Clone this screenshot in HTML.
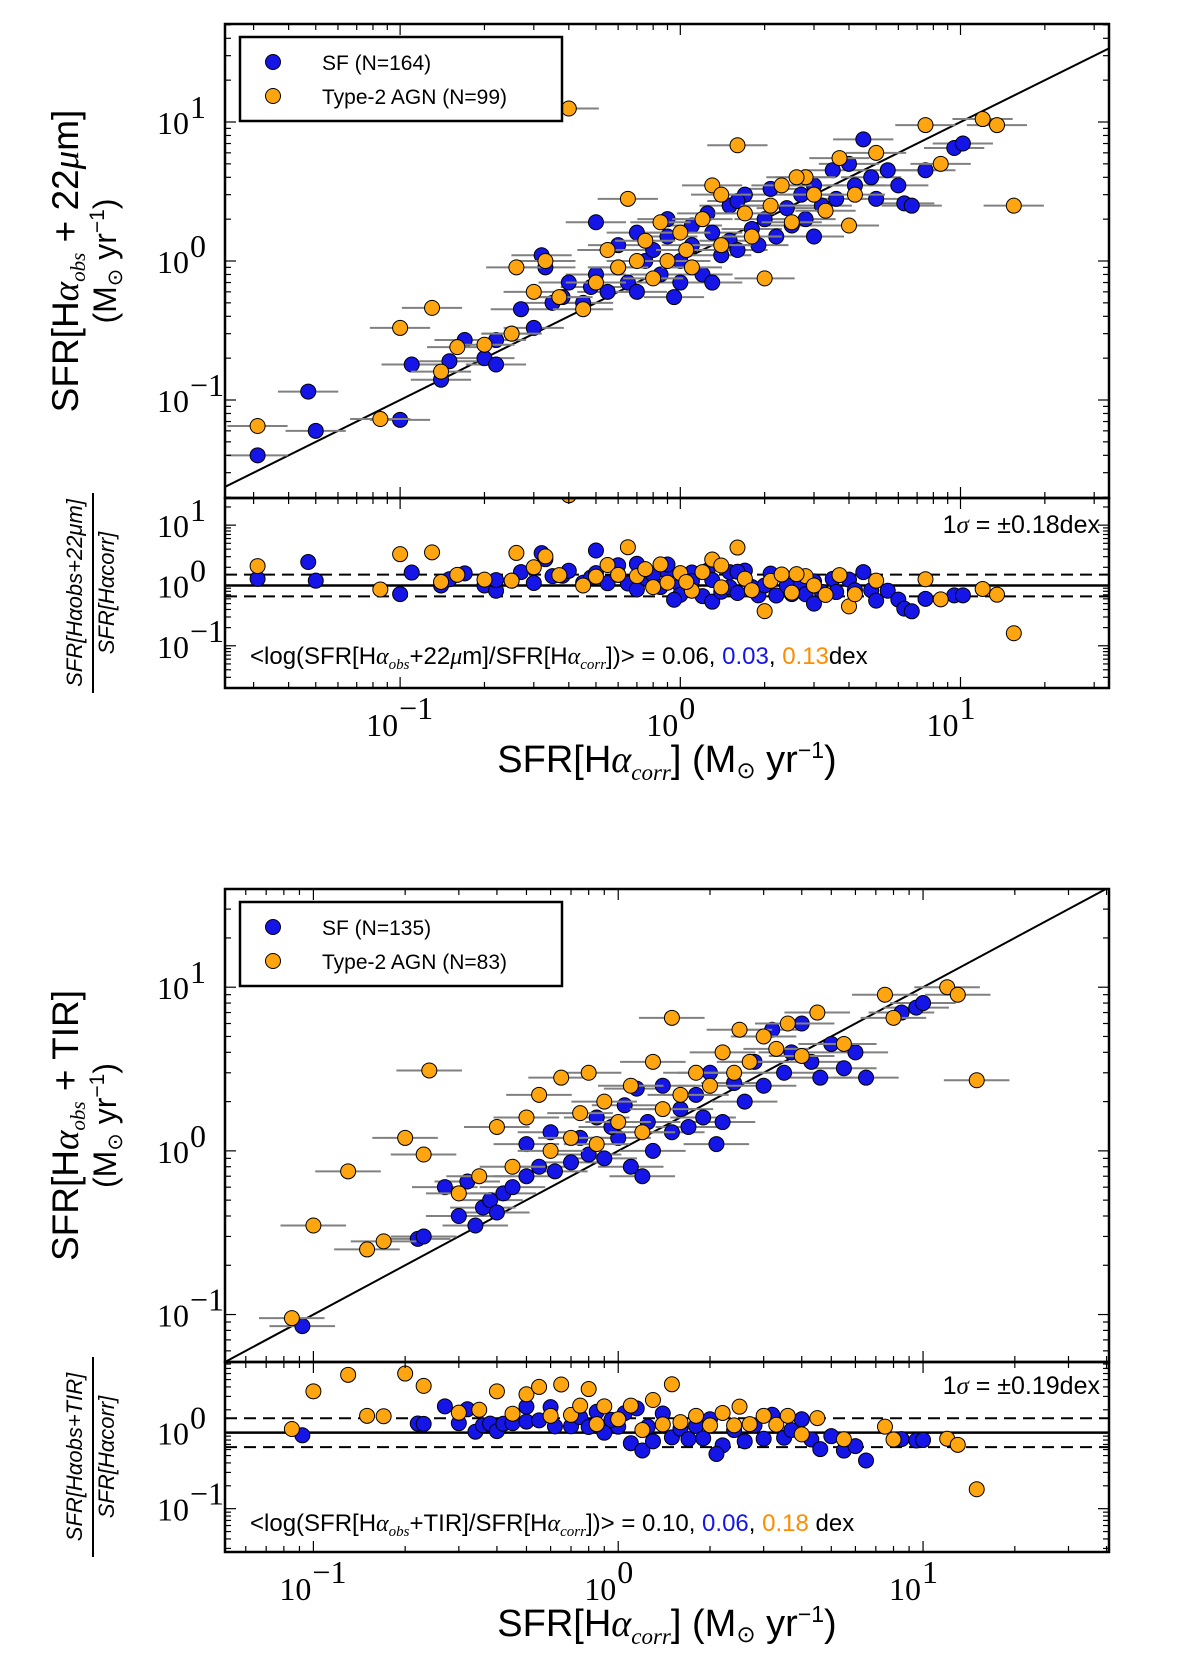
<!DOCTYPE html>
<html><head><meta charset="utf-8"><style>
html,body{margin:0;padding:0;background:#fff;}
svg text{font-family:"Liberation Sans",sans-serif;}
.tk{font-family:"Liberation Serif",serif;font-size:32px;}
</style></head><body>
<svg id="chart" width="1200" height="1652" viewBox="0 0 1200 1652" xmlns="http://www.w3.org/2000/svg"></svg>
<script>
// ---- data: top panel (22um) ----
const sfTopX = [0.031,0.047,0.05,0.1,0.11,0.14,0.17,0.15,0.2,0.22,0.22,0.25,0.27,0.3,0.32,0.33,0.35,0.38,0.4,0.45,0.48,0.5,0.5,0.55,0.6,0.6,0.65,0.7,0.7,0.75,0.8,0.85,0.9,0.9,1.0,1.0,1.1,1.1,1.2,1.25,1.3,1.3,1.4,1.5,1.5,1.6,1.7,1.8,1.9,2.0,2.1,2.2,2.4,2.5,2.7,2.8,3.0,3.2,3.5,3.6,4.0,4.2,4.5,4.8,5.0,5.5,6.0,6.3,6.7,7.5,9.5,10.2,3.0,1.6,0.95];
const sfTopY = [0.040,0.115,0.06,0.072,0.18,0.14,0.27,0.19,0.2,0.18,0.27,0.3,0.45,0.33,1.1,0.9,0.5,0.55,0.7,0.5,0.65,1.9,0.8,0.6,1.3,0.9,0.7,1.6,0.6,1.0,1.2,0.8,1.5,2.0,1.0,0.7,1.8,1.3,0.8,2.2,0.7,1.6,1.1,2.5,1.4,1.2,3.0,1.7,1.3,2.0,3.3,1.5,2.4,1.8,3.0,2.0,3.5,2.5,4.5,2.8,5.0,3.5,7.5,4.0,2.8,4.5,3.5,2.6,2.5,4.5,6.5,7.0,1.5,2.7,0.55];
const agnTopX = [0.031,0.085,0.1,0.13,0.14,0.16,0.2,0.25,0.26,0.3,0.33,0.37,0.4,0.45,0.5,0.55,0.6,0.65,0.7,0.75,0.8,0.85,0.9,1.0,1.1,1.2,1.3,1.4,1.4,1.6,1.7,1.8,2.0,2.1,2.3,2.5,2.8,3.0,3.3,3.7,4.0,4.2,5.0,7.5,8.5,12,13.5,15.5,2.6,1.05];
const agnTopY = [0.065,0.073,0.33,0.46,0.16,0.24,0.25,0.3,0.9,0.6,1.0,0.55,12.5,0.45,0.7,1.2,0.9,2.8,1.0,1.4,0.75,1.9,1.0,1.6,0.9,2.0,3.5,3.0,1.3,6.8,2.2,1.5,0.75,2.5,3.5,1.9,4.0,3.0,2.3,5.5,1.8,3.0,6.0,9.5,5.0,10.5,9.5,2.5,4.0,1.2];
// ---- data: bottom panel (TIR) ----
const sfBotX = [0.092,0.22,0.23,0.27,0.3,0.32,0.34,0.36,0.38,0.4,0.42,0.45,0.5,0.5,0.55,0.6,0.62,0.7,0.75,0.8,0.85,0.9,1.0,1.05,1.1,1.2,1.25,1.3,1.4,1.5,1.6,1.7,1.8,1.9,2.0,2.2,2.4,2.6,2.8,3.0,3.2,3.5,3.7,4.0,4.3,4.6,5.0,5.5,6.0,6.5,8.5,9.5,10,2.1,1.15,0.95];
const sfBotY = [0.085,0.29,0.3,0.6,0.4,0.65,0.35,0.45,0.5,0.42,0.55,0.6,1.1,0.7,0.8,1.3,0.75,0.85,1.2,0.95,1.6,0.9,1.2,1.9,0.8,0.7,1.5,1.0,2.5,1.3,1.8,1.4,2.2,1.6,3.0,1.5,2.6,2.0,3.5,2.5,5.5,3.0,4.0,6.0,3.5,2.8,4.5,3.2,4.0,2.8,7.0,7.5,8.0,1.1,2.4,1.4];
const agnBotX = [0.085,0.1,0.13,0.15,0.17,0.2,0.23,0.24,0.3,0.35,0.4,0.45,0.5,0.55,0.6,0.65,0.7,0.75,0.8,0.85,0.9,1.0,1.1,1.2,1.3,1.4,1.5,1.6,1.8,2.0,2.2,2.4,2.7,3.0,3.3,3.6,4.0,4.5,5.5,7.5,8.0,12,13,15,2.5];
const agnBotY = [0.095,0.35,0.75,0.25,0.28,1.2,0.95,3.1,0.55,0.7,1.4,0.8,1.6,2.2,1.0,2.8,1.2,1.7,3.0,1.1,2.0,1.5,2.5,1.3,3.5,1.8,6.5,2.2,3.0,2.5,4.0,3.0,3.5,5.0,4.2,6.0,3.8,7.0,4.5,9.0,6.5,10,9,2.7,5.5];
const majorTicks = [-1,0,1];

const NS="http://www.w3.org/2000/svg";
const svg=document.getElementById('chart');
function el(tag,attrs,parent){const e=document.createElementNS(NS,tag);for(const k in attrs)e.setAttribute(k,attrs[k]);(parent||svg).appendChild(e);return e;}
function lg(v){return Math.log10(v);}
function mkScale(p0,v0,p1,v1){return v=>p0+(lg(v)-v0)*(p1-p0)/(v1-v0);}

function ticks(g,sx,sy,box,xr,yr,showX,yMajors){
  for(let d=Math.floor(xr[0]);d<=Math.ceil(xr[1]);d++){
    for(let m=1;m<10;m++){const v=m*Math.pow(10,d);const L=lg(v);if(L<xr[0]||L>xr[1])continue;
      const x=sx(v);const len=m===1?11:6;
      el('line',{x1:x,y1:box.y1,x2:x,y2:box.y1-len,stroke:'#000','stroke-width':1.2},g);
      el('line',{x1:x,y1:box.y0,x2:x,y2:box.y0+len,stroke:'#000','stroke-width':1.2},g);
      if(m===1&&showX){const t=el('text',{x:x-2,y:box.y1+48,'text-anchor':'end',class:'tk'},g);t.textContent='10';
        const s=el('text',{x:x-1,y:box.y1+31,'font-size':21,class:'tk'},g);s.textContent=d<0?'\u2212'+(-d):String(d);}
    }
  }
  for(let d=Math.floor(yr[0]);d<=Math.ceil(yr[1]);d++){
    for(let m=1;m<10;m++){const v=m*Math.pow(10,d);const L=lg(v);if(L<yr[0]||L>yr[1])continue;
      const y=sy(v);const len=m===1?11:6;
      el('line',{x1:box.x0,y1:y,x2:box.x0+len,y2:y,stroke:'#000','stroke-width':1.2},g);
      el('line',{x1:box.x1,y1:y,x2:box.x1-len,y2:y,stroke:'#000','stroke-width':1.2},g);
      if(m===1&&yMajors.includes(d)){const t=el('text',{x:box.x0-36,y:y+12,'text-anchor':'end',class:'tk'},g);t.textContent='10';
        const s=el('text',{x:box.x0-35,y:y-4,'font-size':21,class:'tk'},g);s.textContent=d<0?'\u2212'+(-d):String(d);}
    }
  }
}

function points(g,sx,sy,X,Y,resid,color,name,box){
  if(!resid){
    for(let i=0;i<X.length;i++){
      const y=sy(Y[i]);
      if(y<box.y0-10||y>box.y1+10)continue;
      const eb=el('line',{x1:sx(X[i]*0.78),x2:sx(X[i]*1.28),y1:y,y2:y,stroke:'#808080','stroke-width':2},g);
      
      
    }
  }
  for(let i=0;i<X.length;i++){
    const x=sx(X[i]);const yv=resid?Y[i]/X[i]:Y[i];const y=sy(yv);
    if(y<box.y0-10||y>box.y1+10)continue;
    const c=el('circle',{cx:x,cy:y,r:7.5,fill:color,stroke:'#000','stroke-width':1},g);
    
    
  }
}

function panel(o){
  const g=el('g',{});
  
  
  const mb={x0:225,x1:1109,y0:o.mainY0,y1:o.mainY1};
  const rb={x0:225,x1:1109,y0:o.mainY1,y1:o.resY1};
  const sx=mkScale(225,o.xr[0],1109,o.xr[1]);
  const sy=mkScale(o.mainY1,o.yr[0],o.mainY0,o.yr[1]);
  const sr=mkScale(o.resY1,o.rr[0],o.mainY1,o.rr[1]);
  const cid=o.name+'-clip';
  const cp=el('clipPath',{id:cid},g);el('rect',{x:mb.x0,y:mb.y0,width:mb.x1-mb.x0,height:mb.y1-mb.y0},cp);
  const cid2=o.name+'-clip2';
  const cp2=el('clipPath',{id:cid2},g);el('rect',{x:rb.x0,y:rb.y0,width:rb.x1-rb.x0,height:rb.y1-rb.y0},cp2);
  const gm=el('g',{'clip-path':'url(#'+cid+')'},g);
  const lo=Math.min(o.xr[0],o.yr[0])-0.5,hi=Math.max(o.xr[1],o.yr[1])+0.5;
  const line=el('line',{x1:sx(Math.pow(10,lo)),y1:sy(Math.pow(10,lo)),x2:sx(Math.pow(10,hi)),y2:sy(Math.pow(10,hi)),stroke:'#000','stroke-width':2},gm);
  
  
  points(gm,sx,sy,o.sfX,o.sfY,false,'#1515e8','sf',mb);
  points(gm,sx,sy,o.agX,o.agY,false,'#ffa510','agn',mb);
  const gr=el('g',{'clip-path':'url(#'+cid2+')'},g);
  el('line',{x1:225,x2:1109,y1:sr(1),y2:sr(1),stroke:'#000','stroke-width':2.5},gr);
  el('line',{x1:225,x2:1109,y1:sr(Math.pow(10,o.sig)),y2:sr(Math.pow(10,o.sig)),stroke:'#000','stroke-width':2,'stroke-dasharray':'12,7'},gr);
  el('line',{x1:225,x2:1109,y1:sr(Math.pow(10,-o.sig)),y2:sr(Math.pow(10,-o.sig)),stroke:'#000','stroke-width':2,'stroke-dasharray':'12,7'},gr);
  points(gr,sx,sr,o.sfX,o.sfY,true,'#1515e8','sf-resid',rb);
  points(gr,sx,sr,o.agX,o.agY,true,'#ffa510','agn-resid',rb);
  ticks(g,sx,sy,mb,o.xr,o.yr,false,majorTicks);
  ticks(g,sx,sr,rb,o.xr,o.rr,true,o.rMaj);
  el('rect',{x:225,y:mb.y0,width:884,height:mb.y1-mb.y0,fill:'none',stroke:'#000','stroke-width':2.5},g);
  el('rect',{x:225,y:rb.y0,width:884,height:rb.y1-rb.y0,fill:'none',stroke:'#000','stroke-width':2.5},g);
  const L=el('g',{},g);
  el('rect',{x:240,y:mb.y0+13,width:322,height:84,fill:'#fff',stroke:'#000','stroke-width':2.5},L);
  el('circle',{cx:273,cy:mb.y0+38,r:7.5,fill:'#1515e8',stroke:'#000'},L);
  el('circle',{cx:273,cy:mb.y0+72,r:7.5,fill:'#ffa510',stroke:'#000'},L);
  let t=el('text',{x:322,y:mb.y0+46,'font-size':21},L);t.textContent=o.leg1;
  t=el('text',{x:322,y:mb.y0+80,'font-size':21},L);t.textContent=o.leg2;
  t=el('text',{x:1100,y:o.sigY,'font-size':25,'text-anchor':'end'},g);
  t.innerHTML='1<tspan font-family="Liberation Serif" font-style="italic">σ</tspan> = ±'+o.sig.toFixed(2)+'dex';
  t=el('text',{x:o.meanX,y:o.meanY,'font-size':24},g);
  t.innerHTML='&lt;log(SFR[H<tspan font-family="Liberation Serif" font-style="italic">α</tspan><tspan font-size="15" dy="5" font-family="Liberation Serif" font-style="italic">obs</tspan><tspan dy="-5">+'+o.band+']/SFR[H</tspan><tspan font-family="Liberation Serif" font-style="italic">α</tspan><tspan font-size="15" dy="5" font-family="Liberation Serif" font-style="italic">corr</tspan><tspan dy="-5">])&gt; = '+o.m0+', </tspan><tspan fill="#1515e8">'+o.m1+'</tspan>, <tspan fill="#ff8c00">'+o.m2+'</tspan>'+o.dexSp+'dex';
  t=el('text',{x:667,y:o.xlabY,'font-size':38,'text-anchor':'middle'},g);
  t.innerHTML='SFR[H<tspan font-family="Liberation Serif" font-style="italic">α</tspan><tspan font-size="23" dy="8" font-family="Liberation Serif" font-style="italic">corr</tspan><tspan dy="-8">]  (M</tspan><tspan font-size="23" dy="6">⊙</tspan><tspan dy="-6"> yr</tspan><tspan font-size="23" dy="-14">−1</tspan><tspan dy="14">)</tspan>';
  const cy=(mb.y0+mb.y1)/2;
  t=el('text',{x:0,y:0,'font-size':37,'text-anchor':'middle',transform:'translate(78,'+cy+') rotate(-90)'},g);
  t.innerHTML='SFR[H<tspan font-family="Liberation Serif" font-style="italic">α</tspan><tspan font-size="21" dy="7" font-family="Liberation Serif" font-style="italic">obs</tspan><tspan dy="-7"> + '+o.ylab+']</tspan>';
  t=el('text',{x:0,y:0,'font-size':32,'text-anchor':'middle',transform:'translate(116,'+cy+') rotate(-90)'},g);
  t.innerHTML='(M<tspan font-size="21" dy="6">⊙</tspan><tspan dy="-6"> yr</tspan><tspan font-size="21" dy="-12">−1</tspan><tspan dy="12">)</tspan>';
  const ry=(rb.y0+rb.y1)/2;
  t=el('text',{x:0,y:0,'font-size':22,'text-anchor':'middle','font-style':'italic','font-family':'Liberation Serif',transform:'translate(82,'+ry+') rotate(-90)'},g);
  
  t.textContent='SFR[Hα'+'obs+'+o.rlab+']';
  el('line',{x1:93,x2:93,y1:ry-100,y2:ry+100,stroke:'#000','stroke-width':2},g);
  t=el('text',{x:0,y:0,'font-size':22,'text-anchor':'middle','font-style':'italic','font-family':'Liberation Serif',transform:'translate(114,'+ry+') rotate(-90)'},g);
  t.textContent='SFR[Hαcorr]';
}

panel({name:'top-panel-22um',mainY0:24,mainY1:498,resY1:688,xr:[-1.625,1.53],yr:[-1.705,1.705],rr:[-1.7,1.45],rMaj:[-1,0,1],
  sfX:sfTopX,sfY:sfTopY,agX:agnTopX,agY:agnTopY,sig:0.18,leg1:'SF (N=164)',leg2:'Type-2 AGN (N=99)',sigY:533,
  meanX:250,meanY:664,band:'22<tspan font-family="Liberation Serif" font-style="italic">μ</tspan>m',m0:'0.06',m1:'0.03',m2:'0.13',dexSp:'',xlabY:772,ylab:'22<tspan font-family="Liberation Serif" font-style="italic">μ</tspan>m',rlab:'22μm'});
panel({name:'bottom-panel-tir',mainY0:889,mainY1:1362,resY1:1552,xr:[-1.29,1.61],yr:[-1.29,1.6],rr:[-1.57,0.93],rMaj:[-1,0,1],
  sfX:sfBotX,sfY:sfBotY,agX:agnBotX,agY:agnBotY,sig:0.19,leg1:'SF (N=135)',leg2:'Type-2 AGN (N=83)',sigY:1394,
  meanX:250,meanY:1531,band:'TIR',m0:'0.10',m1:'0.06',m2:'0.18',dexSp:' ',xlabY:1636,ylab:'TIR',rlab:'TIR'});
</script>
</body></html>
